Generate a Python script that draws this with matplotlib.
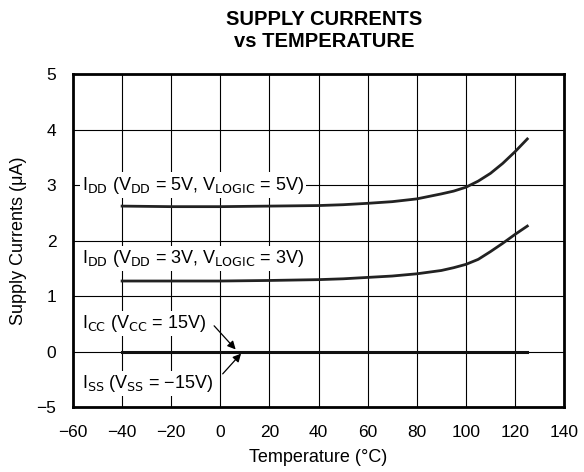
import numpy as np
import matplotlib
matplotlib.use("Agg")
import matplotlib.pyplot as plt

plt.rcParams['font.family'] = ['Liberation Sans', 'DejaVu Sans']

# readings taken off the reference curves
temp = [-40, -20, 0, 20, 40, 50, 60, 70, 80, 90, 95, 100, 105, 110, 115, 120, 125]
idd_5v = [2.62, 2.61, 2.61, 2.62, 2.63, 2.645, 2.67, 2.70, 2.75, 2.84, 2.89, 2.96, 3.07,
          3.21, 3.39, 3.60, 3.83]
idd_3v = [1.27, 1.27, 1.27, 1.28, 1.295, 1.31, 1.335, 1.36, 1.40, 1.46, 1.51, 1.57, 1.66,
          1.80, 1.95, 2.11, 2.26]
icc_temp = [-40, 125]
icc = [0, 0]

xticks = [-60, -40, -20, 0, 20, 40, 60, 80, 100, 120, 140]
yticks = [-5, 0, 1, 2, 3, 4, 5]


# the axis squeezes 0..-5 into one grid step
def fwd(y):
    y = np.asarray(y, dtype=float)
    return np.where(y >= 0, y, y / 5.0)


def inv(z):
    z = np.asarray(z, dtype=float)
    return np.where(z >= 0, z, z * 5.0)


fig = plt.figure(figsize=(5.84, 4.72), dpi=100)
ax = fig.add_axes([0.125, 0.1377, 0.841, 0.7055])
ax.set_yscale('function', functions=(fwd, inv))
ax.set_xlim(-60, 140)
ax.set_ylim(-5, 5)
ax.set_xticks(xticks)
ax.set_yticks(yticks)
ax.set_yticklabels([str(t).replace('-', '\u2212') for t in yticks])
ax.minorticks_off()
ax.tick_params(length=0, labelsize=12.5)
ax.tick_params(axis='x', pad=13)
ax.tick_params(axis='y', pad=12)
ax.grid(True, color='black', lw=0.8)
for s in ax.spines.values():
    s.set_linewidth(2)

ax.plot(temp, idd_5v, color='#222222', lw=2, zorder=4)
ax.plot(temp, idd_3v, color='#222222', lw=2, zorder=4)
ax.plot(icc_temp, icc, color='#111111', lw=2.2, zorder=4)

fs = 13
box = dict(facecolor='white', edgecolor='none', pad=1.5)
ax.text(-56.4, 3.0, r'I$_{\rm DD}$ (V$_{\rm DD}$ = 5V, V$_{\rm LOGIC}$ = 5V)',
        fontsize=fs, va='center', ha='left', bbox=box, zorder=3)
ax.text(-56.4, 1.67, r'I$_{\rm DD}$ (V$_{\rm DD}$ = 3V, V$_{\rm LOGIC}$ = 3V)',
        fontsize=fs, va='center', ha='left', bbox=box, zorder=3)
ax.text(-56.4, 0.5, r'I$_{\rm CC}$ (V$_{\rm CC}$ = 15V)',
        fontsize=fs, va='center', ha='left', bbox=box, zorder=3)
ax.text(-56.4, -2.9, 'I$_{\\rm SS}$ (V$_{\\rm SS}$ = \u221215V)',
        fontsize=fs, va='center', ha='left', bbox=box, zorder=3)

arrow = dict(arrowstyle='-|>', color='black', lw=0.9, mutation_scale=12)
ax.annotate('', xy=(7, 0), xytext=(-3.3, 0.5), arrowprops=arrow, zorder=5)
ax.annotate('', xy=(9.2, 0), xytext=(0.2, -2.2), arrowprops=arrow, zorder=5)

ax.set_xlabel('Temperature (\u00b0C)', fontsize=fs, va='center')
ax.xaxis.set_label_coords(0.5, -0.153)
ax.set_ylabel('Supply Currents (\u03bcA)', fontsize=fs, va='center')
ax.yaxis.set_label_coords(-0.11, 0.5)
fig.text(0.555, 0.958, 'SUPPLY CURRENTS', fontsize=14.5, fontweight='bold',
         ha='center', va='center')
fig.text(0.555, 0.912, 'vs TEMPERATURE', fontsize=14.5, fontweight='bold',
         ha='center', va='center')

fig.savefig('out.png', dpi=100)
